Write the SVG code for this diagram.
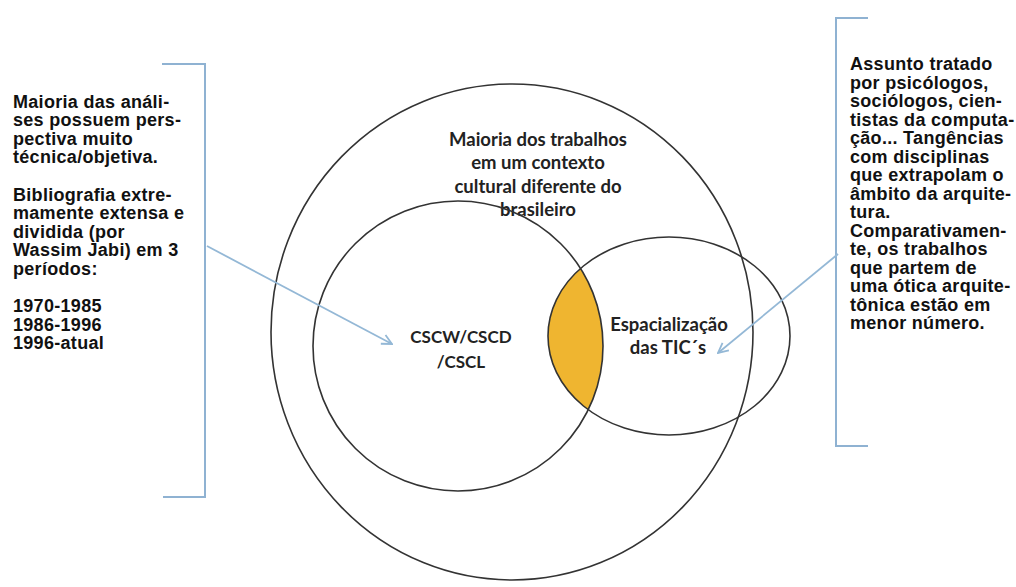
<svg xmlns="http://www.w3.org/2000/svg" width="1016" height="587" viewBox="0 0 1016 587">
<style>
.venn{fill:none;stroke:#333;stroke-width:1.6}
.note{font-family:"Liberation Sans",Arial,sans-serif;font-weight:bold;font-size:18px;fill:#111;letter-spacing:0.3px}
.lbl{font-family:Lato,"Open Sans",sans-serif;font-weight:bold;font-size:18.5px;fill:#222;text-anchor:middle}
.cap{font-size:17px}
.brk{fill:none;stroke:#8fb2d2;stroke-width:2}
.arr{fill:none;stroke:#94b8d6;stroke-width:1.8}
</style>
<defs>
<marker id="ah" viewBox="0 0 12 12" refX="11" refY="6" markerWidth="12" markerHeight="12" markerUnits="userSpaceOnUse" orient="auto">
<path d="M1,1 L11,6 L1,11" fill="none" stroke="#94b8d6" stroke-width="1.8"/>
</marker>
<clipPath id="leftc"><circle cx="458" cy="346" r="145"/></clipPath>
</defs>
<rect width="1016" height="587" fill="#fff"/>
<g id="outer">
<ellipse class="venn" cx="512" cy="332" rx="241" ry="248"/>
<text class="lbl" x="538" y="146">Maioria dos trabalhos</text>
<text class="lbl" x="538" y="169">em um contexto</text>
<text class="lbl" x="538" y="193">cultural diferente do</text>
<text class="lbl" x="538" y="216">brasileiro</text>
</g>
<g id="intersection">
<ellipse cx="669" cy="336" rx="121" ry="99" fill="#efb530" clip-path="url(#leftc)"/>
</g>
<g id="cscw">
<circle class="venn" cx="458" cy="346" r="145"/>
<text class="lbl cap" x="461" y="343">CSCW/CSCD</text>
<text class="lbl cap" x="461" y="368">/CSCL</text>
</g>
<g id="tic">
<ellipse class="venn" cx="669" cy="336" rx="121" ry="99"/>
<text class="lbl" x="669" y="331">Espacialização</text>
<text class="lbl" x="668" y="354">das TIC´s</text>
</g>
<g id="left-note">
<path class="brk" d="M162,64 H205 V497 H163"/>
<text class="note" x="13">
<tspan x="13" y="107.5">Maioria das análi-</tspan>
<tspan x="13" y="126.1">ses possuem pers-</tspan>
<tspan x="13" y="144.7">pectiva muito</tspan>
<tspan x="13" y="163.3">técnica/objetiva.</tspan>
<tspan x="13" y="200.5">Bibliografia extre-</tspan>
<tspan x="13" y="219.1">mamente extensa e</tspan>
<tspan x="13" y="237.7">dividida (por</tspan>
<tspan x="13" y="256.3">Wassim Jabi) em 3</tspan>
<tspan x="13" y="274.9">períodos:</tspan>
<tspan x="13" y="312.1">1970-1985</tspan>
<tspan x="13" y="330.7">1986-1996</tspan>
<tspan x="13" y="349.3">1996-atual</tspan>
</text>
</g>
<g id="right-note">
<path class="brk" d="M868,18 H836 V446 H868"/>
<text class="note">
<tspan x="850" y="70">Assunto tratado</tspan>
<tspan x="850" y="88.5">por psicólogos,</tspan>
<tspan x="850" y="107">sociólogos, cien-</tspan>
<tspan x="850" y="125.5">tistas da computa-</tspan>
<tspan x="850" y="144">ção... Tangências</tspan>
<tspan x="850" y="162.5">com disciplinas</tspan>
<tspan x="850" y="181">que extrapolam o</tspan>
<tspan x="850" y="199.5">âmbito da arquite-</tspan>
<tspan x="850" y="218">tura.</tspan>
<tspan x="850" y="236.5">Comparativamen-</tspan>
<tspan x="850" y="255">te, os trabalhos</tspan>
<tspan x="850" y="273.5">que partem de</tspan>
<tspan x="850" y="292">uma ótica arquite-</tspan>
<tspan x="850" y="310.5">tônica estão em</tspan>
<tspan x="850" y="329">menor número.</tspan>
</text>
</g>
<g id="connectors">
<path class="arr" d="M207,246 L392,344" marker-end="url(#ah)"/>
<path class="arr" d="M838,254 L718,353" marker-end="url(#ah)"/>
</g>
</svg>
